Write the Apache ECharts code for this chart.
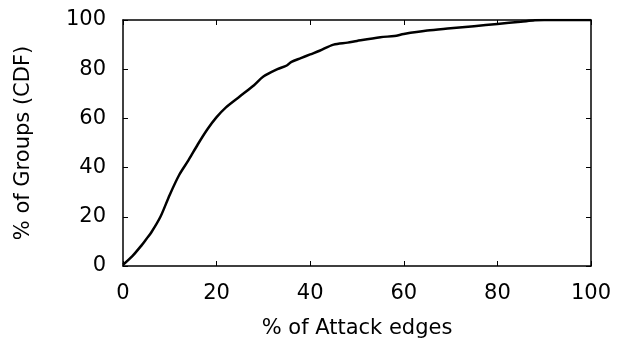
<!DOCTYPE html>
<html>
<head>
<meta charset="utf-8">
<script src="https://cdn.jsdelivr.net/npm/echarts@6/dist/echarts.min.js"></script>
<style>
  html, body { margin: 0; padding: 0; background: #fff; }
  #chart { width: 618px; height: 339px; }
</style>
</head>
<body>
<div id="chart"></div>
<script>
// % of attack edges (x) vs cumulative % of groups (y)
const attackEdges = [0, 2, 4, 5, 6, 8, 10, 12, 14, 16, 18, 20, 22, 25, 28, 30, 33, 35, 36, 38, 40, 42, 45, 48, 50, 55, 58, 60, 65, 70, 75, 80, 85, 88, 90, 100];
const groupsCdf = [0.5, 4, 8.5, 11, 13.5, 20, 29, 37, 43, 49.5, 55.5, 60.5, 64.5, 69, 73.5, 77, 80, 81.5, 83, 84.5, 86, 87.5, 90, 90.8, 91.5, 93, 93.5, 94.3, 95.7, 96.6, 97.5, 98.4, 99.3, 99.9, 100, 100];
const tickValues = [0, 20, 40, 60, 80, 100];

const chartBlock = document.getElementById('chart');
const chart = echarts.init(chartBlock);

const labelFont = {
  fontFamily: 'DejaVu Sans',
  fontSize: 21,
  color: '#000',
};

const baseAxis = {
  type: 'value',
  min: tickValues[0],
  max: tickValues[tickValues.length - 1],
  interval: 20,
  axisLine: { show: true, onZero: false, lineStyle: { color: '#000', width: 1.5 } },
  axisTick: { show: true, inside: true, length: 5, lineStyle: { color: '#000', width: 1 } },
  splitLine: { show: false },
};

const option = {
  animation: false,
  grid: {
    left: 123,
    right: 27,
    top: 20,
    bottom: 73,
    outerBoundsMode: 'none',
  },
  xAxis: [
    Object.assign({}, baseAxis, {
      position: 'bottom',
      name: '% of Attack edges',
      nameLocation: 'middle',
      nameGap: 52,
      nameTextStyle: labelFont,
      axisLabel: Object.assign({ margin: 17 }, labelFont),
    }),
    Object.assign({}, baseAxis, {
      position: 'top',
      axisLabel: { show: false },
    }),
  ],
  yAxis: [
    Object.assign({}, baseAxis, {
      position: 'left',
      name: '% of Groups (CDF)',
      nameLocation: 'middle',
      nameGap: 89,
      nameTextStyle: labelFont,
      axisLabel: Object.assign({ margin: 17 }, labelFont),
    }),
    Object.assign({}, baseAxis, {
      position: 'right',
      axisLabel: { show: false },
    }),
  ],
  series: [
    {
      type: 'line',
      data: attackEdges.map((x, i) => [x, groupsCdf[i]]),
      showSymbol: false,
      smooth: 0.3,
      lineStyle: { color: '#000', width: 2.5 },
    },
  ],
};

chart.setOption(option);
window.addEventListener('resize', () => chart.resize());
</script>
</body>
</html>
